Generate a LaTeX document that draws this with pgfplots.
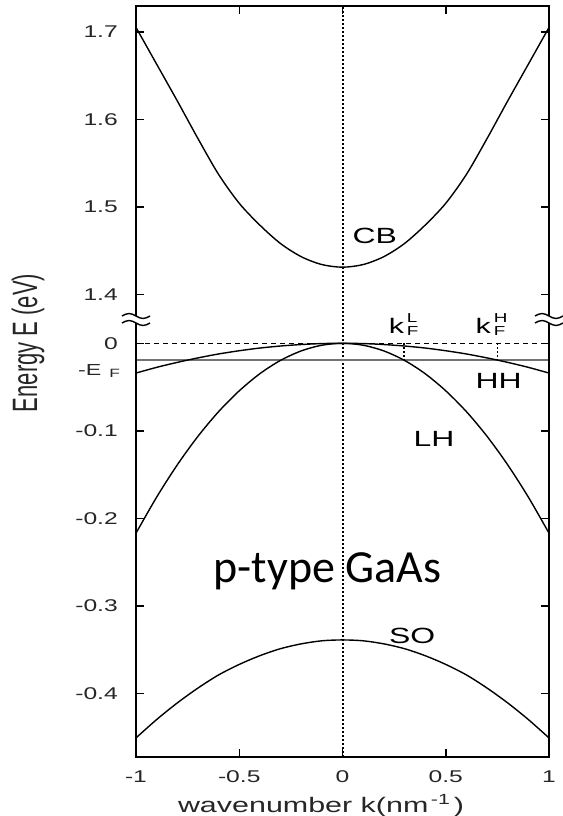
\documentclass[border=0pt]{standalone}
\usepackage{pgfplots}
\pgfplotsset{compat=1.18}
\usepackage{fontspec}
\setmainfont{Liberation Sans}[FakeStretch=1.45]
\newfontfamily\plainsans{Liberation Sans}
\newfontfamily\calibri{Carlito}
\usepackage{graphicx}
\newcommand\fsz[1]{\fontsize{#1}{#1}\selectfont}
\begin{document}
\begin{tikzpicture}
\path[use as bounding box] (-136bp,-59bp) rectangle (427bp,757bp);
\begin{axis}[
  at={(0,0)}, anchor=south west,
  scale only axis, width=413bp, height=751bp,
  xmin=-1, xmax=1, ymin=-0.4728, ymax=0.3855,
  xtick={-1,-0.5,0,0.5,1}, xticklabels={-1,-0.5,0,0.5,1},
  ytick={-0.4,-0.3,-0.2,-0.1,0,0.056,0.156,0.256,0.356},
  yticklabels={-0.4,-0.3,-0.2,-0.1,0,1.4,1.5,1.6,1.7},
  tick align=inside, major tick length=8bp,
  axis line style={line width=2.2bp},
  every tick/.style={black, line width=1.5bp},
  ticklabel style={font=\fsz{17bp}, text=black!85},
  xticklabel style={anchor=base, yshift=-25bp, inner sep=0pt},
  yticklabel style={anchor=east, xshift=-18bp, inner sep=0pt},
  clip=false,
]
% zero-energy dashed line and vertical k=0 dotted line
\addplot[black, line width=1.3bp, dash pattern=on 5bp off 4bp] coordinates {(-1,0) (1,0)};
\addplot[black, line width=2bp, dash pattern=on 1.8bp off 2.2bp] coordinates {(0,-0.4728) (0,0.3855)};
% Fermi level
\addplot[black!55, line width=2.2bp] coordinates {(-1,-0.0191) (1,-0.0191)};
% kF markers
\addplot[black, line width=1.6bp, dash pattern=on 1.6bp off 2.4bp] coordinates {(0.297,0) (0.297,-0.0191)};
\addplot[black, line width=1.6bp, dash pattern=on 1.6bp off 2.4bp] coordinates {(0.75,0) (0.75,-0.0191)};
% CB (energy in eV, shifted for the broken axis)
\addplot[black, line width=1.4bp, smooth] table[y expr=\thisrow{E}-1.344] {
k E
-1.0 1.705
-0.9 1.663
-0.8 1.621
-0.7 1.578
-0.6 1.537
-0.5 1.504
-0.4 1.479
-0.3 1.458
-0.2 1.443
-0.1 1.434
0.0 1.431
0.1 1.434
0.2 1.443
0.3 1.458
0.4 1.479
0.5 1.504
0.6 1.537
0.7 1.578
0.8 1.621
0.9 1.663
1.0 1.705
};
% HH
\addplot[black, line width=1.4bp, smooth] table {
k E
-1.0 -0.0340
-0.9 -0.0275
-0.8 -0.0218
-0.7 -0.0167
-0.6 -0.0122
-0.5 -0.0085
-0.4 -0.0054
-0.3 -0.0031
-0.2 -0.0014
-0.1 -0.0003
0.0 0.0
0.1 -0.0003
0.2 -0.0014
0.3 -0.0031
0.4 -0.0054
0.5 -0.0085
0.6 -0.0122
0.7 -0.0167
0.8 -0.0218
0.9 -0.0275
1.0 -0.0340
};
% LH
\addplot[black, line width=1.4bp, smooth] table {
k E
-1.0 -0.2170
-0.9 -0.1758
-0.8 -0.1389
-0.7 -0.1063
-0.6 -0.0781
-0.5 -0.0543
-0.4 -0.0347
-0.3 -0.0195
-0.2 -0.0087
-0.1 -0.0022
0.0 0.0
0.1 -0.0022
0.2 -0.0087
0.3 -0.0195
0.4 -0.0347
0.5 -0.0543
0.6 -0.0781
0.7 -0.1063
0.8 -0.1389
0.9 -0.1758
1.0 -0.2170
};
% SO
\addplot[black, line width=1.4bp, smooth] table {
k E
-1.0 -0.451
-0.9 -0.430
-0.8 -0.411
-0.7 -0.394
-0.6 -0.379
-0.5 -0.367
-0.4 -0.357
-0.3 -0.349
-0.2 -0.3435
-0.1 -0.340
0.0 -0.339
0.1 -0.340
0.2 -0.3435
0.3 -0.349
0.4 -0.357
0.5 -0.367
0.6 -0.379
0.7 -0.394
0.8 -0.411
0.9 -0.430
1.0 -0.451
};
\node[anchor=base west, inner sep=0pt, font=\fsz{22bp}] at (axis cs:0.048,0.1143) {CB};
\node[anchor=base west, inner sep=0pt, font=\fsz{22bp}] at (axis cs:0.644,-0.0514) {HH};
\node[anchor=base west, inner sep=0pt, font=\fsz{22bp}] at (axis cs:0.344,-0.1177) {LH};
\node[anchor=base west, inner sep=0pt, font=\fsz{22bp}] at (axis cs:0.225,-0.343) {SO};
\node[anchor=base west, inner sep=0pt, font=\fsz{21bp}] at (axis cs:0.223,0.0114) {k\hspace{3bp}\rlap{\raisebox{11bp}{\fsz{13bp}L}}\raisebox{-2bp}{\fsz{13bp}F}};
\node[anchor=base west, inner sep=0pt, font=\fsz{21bp}] at (axis cs:0.644,0.0114) {k\hspace{3bp}\rlap{\raisebox{11bp}{\fsz{13bp}H}}\raisebox{-2bp}{\fsz{13bp}F}};
\node[anchor=base west, inner sep=0pt, font=\fsz{16bp}, text=black!85] at (axis cs:-1,-0.0366) [xshift=-58bp] {-E\hspace{8bp}\raisebox{-2bp}{\fsz{12bp}F}};
\node[anchor=base west, inner sep=0pt, font=\calibri\fsz{46bp}] at (axis cs:-0.625,-0.273) {p-type GaAs};
\coordinate (BL) at (axis cs:-1,0.0272);
\coordinate (BR) at (axis cs:1,0.0272);
\coordinate (SW) at (rel axis cs:0,0);
\coordinate (NE) at (rel axis cs:1,1);
\end{axis}
\draw[line width=2.2bp] (SW) rectangle (NE);
\foreach \c in {BL,BR} {
  \fill[white] ([shift={(-3bp,-3.5bp)}]\c) rectangle ([shift={(3bp,3.5bp)}]\c);
  \draw[line width=1.4bp] ([shift={(-14bp,3.5bp)}]\c) sin ++(7bp,2.5bp) cos ++(7bp,-2.5bp) sin ++(7bp,-2.5bp) cos ++(7bp,2.5bp);
  \draw[line width=1.4bp] ([shift={(-14bp,-3.5bp)}]\c) sin ++(7bp,2.5bp) cos ++(7bp,-2.5bp) sin ++(7bp,-2.5bp) cos ++(7bp,2.5bp);
}
\node[rotate=90, inner sep=0pt, text=black!85] at (-108bp,414bp) {\scalebox{1}[1.6]{\plainsans\fsz{22bp}Energy E (eV)}};
\node[anchor=base, inner sep=0pt, font=\fsz{21bp}, text=black!85] at (185bp,-55bp) {wavenumber k(nm\textsuperscript{\,-1}\,)};
\end{tikzpicture}
\end{document}
